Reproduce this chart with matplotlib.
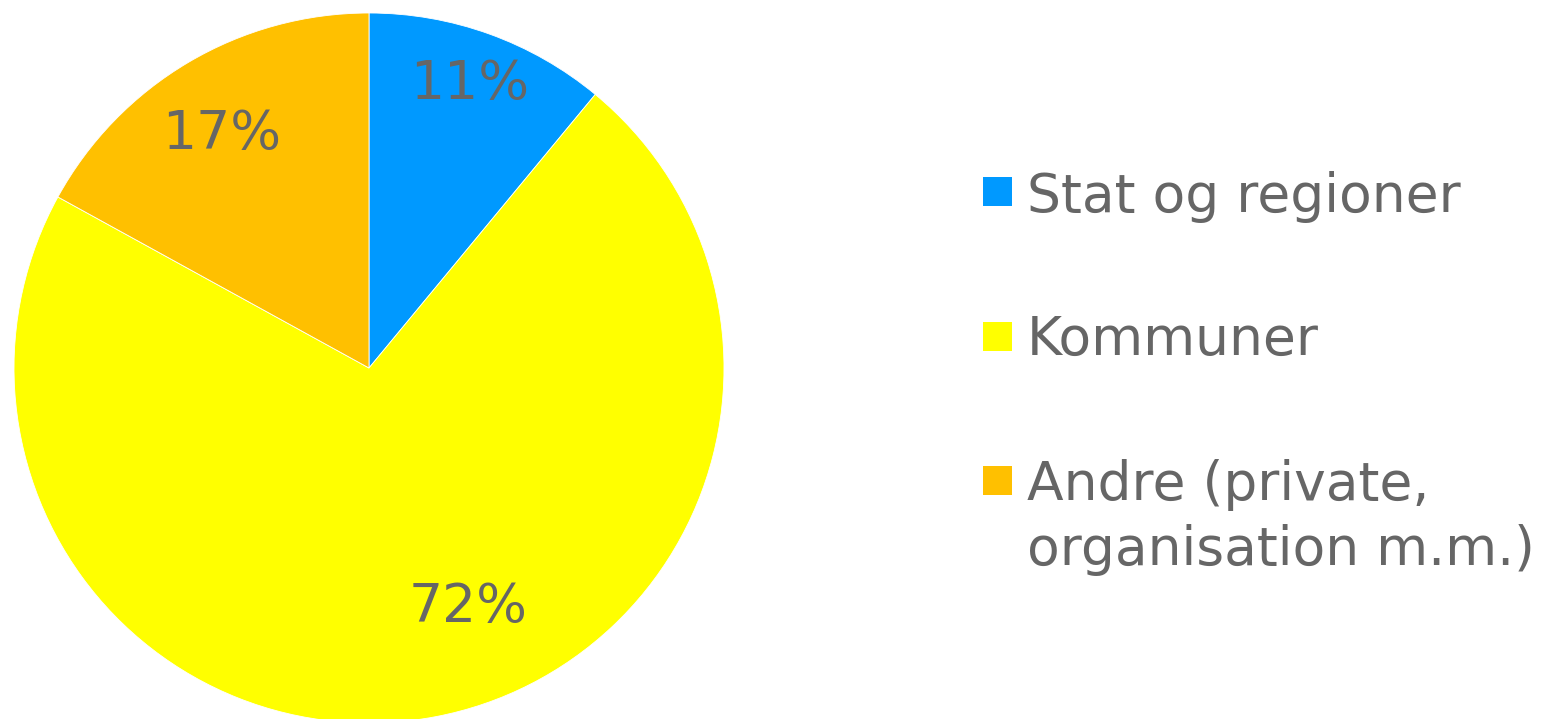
import matplotlib
matplotlib.use('Agg')
from matplotlib import pyplot as plt
from matplotlib.patches import Rectangle

labels = ['Stat og regioner', 'Kommuner', 'Andre (private,\norganisation m.m.)']
shares = [11, 72, 17]
colors = ['#0099FF', '#FFFF00', '#FFC000']
pct_pos = [(0.285, 0.800), (0.279, -0.672), (-0.414, 0.660)]

W, H = 1544, 719
text_color = '#666666'
plt.rcParams['font.family'] = ['DejaVu Sans']

fig = plt.figure(figsize=(W / 100, H / 100), dpi=100)
ax = fig.add_axes([14 / W, -4 / H, 710 / W, 710 / H])

wedges, texts, autotexts = ax.pie(shares, colors=colors, startangle=90, counterclock=False,
                                  autopct='%1.0f%%', radius=1,
                                  wedgeprops=dict(edgecolor='white', linewidth=0.6),
                                  textprops=dict(color=text_color, fontsize=38.5))
for t, pos in zip(autotexts, pct_pos):
    t.set_position(pos)
ax.set_xlim(-1, 1)
ax.set_ylim(-1, 1)
ax.axis('off')

# legend drawn by hand so the box lines up with the first text line
rows = [(177, 212), (322, 355), (466, 500)]
line_gap = 65
for (box_top, baseline), lab, c in zip(rows, labels, colors):
    fig.patches.append(Rectangle((983 / W, (H - box_top - 29) / H), 29 / W, 29 / H,
                                 transform=fig.transFigure, facecolor=c, edgecolor='none'))
    for i, line in enumerate(lab.split('\n')):
        fig.text(1027 / W, (H - baseline - i * line_gap) / H, line, color=text_color,
                 fontsize=38.5, va='baseline', ha='left')

fig.savefig('out.png', dpi=100)
